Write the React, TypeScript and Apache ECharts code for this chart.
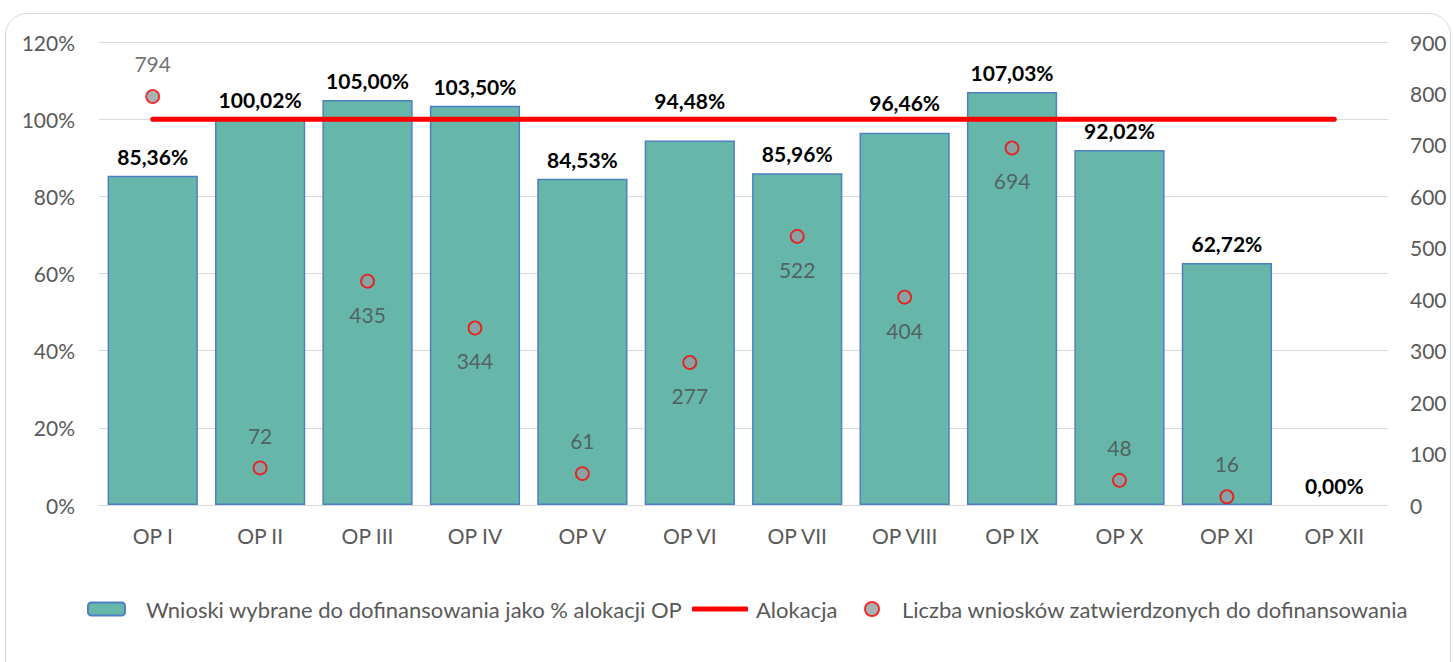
import React, { useEffect, useRef } from "react";
import * as echarts from "echarts";

const categories = ["OP I", "OP II", "OP III", "OP IV", "OP V", "OP VI", "OP VII", "OP VIII", "OP IX", "OP X", "OP XI", "OP XII"];
const percentValues = [85.36, 100.02, 105.0, 103.5, 84.53, 94.48, 85.96, 96.46, 107.03, 92.02, 62.72, 0.0];
const allocationValues = [100, 100, 100, 100, 100, 100, 100, 100, 100, 100, 100, 100];
const countValues: (number | null)[] = [794, 72, 435, 344, 61, 277, 522, 404, 694, 48, 16, null];
const countLabelPos = ["top", "top", "bottom", "bottom", "top", "bottom", "bottom", "bottom", "bottom", "top", "top", "top"];
const barLabelShift = [0, 0, 0, 0, 0, -20, 0, -11, 0, 0, 0, 0];
const leftTicks = [0, 20, 40, 60, 80, 100, 120];
const rightTicks = [0, 100, 200, 300, 400, 500, 600, 700, 800, 900];

const NAME_BAR = "Wnioski wybrane do dofinansowania jako % alokacji OP";
const NAME_LINE = "Alokacja";
const NAME_SCATTER = "Liczba wniosków zatwierdzonych do dofinansowania";

const FONT = "Lato, 'Open Sans', sans-serif";
const GREY = "#595959";

export default function App() {
  const ref = useRef<HTMLDivElement>(null);
  useEffect(() => {
    if (!ref.current) return;
    const chart = echarts.init(ref.current, undefined, { renderer: "svg" });
    const legendText = { fontSize: 22, color: GREY, fontFamily: FONT };
    chart.setOption({
      animation: false,
      textStyle: { fontFamily: FONT },
      grid: { left: 99, right: 65, top: 42, bottom: 157, containLabel: false },
      legend: [
        {
          data: [NAME_BAR], left: 82, top: 593, itemWidth: 37, itemHeight: 13,
          textStyle: { ...legendText, padding: [0, 0, 0, 16] },
        },
        {
          data: [{ name: NAME_LINE, icon: "roundRect" }], left: 687, top: 593, itemWidth: 56, itemHeight: 5,
          textStyle: { ...legendText, padding: [0, 0, 0, 3] },
        },
        {
          data: [NAME_SCATTER], left: 859, top: 593, itemWidth: 14, itemHeight: 14,
          textStyle: { ...legendText, padding: [0, 0, 0, 18] },
        },
      ],
      xAxis: {
        type: "category",
        data: categories,
        axisLine: { show: true, lineStyle: { color: "#d9d9d9", width: 1 } },
        axisTick: { show: false },
        axisLabel: { color: GREY, fontSize: 21, margin: 20, fontFamily: FONT },
      },
      yAxis: [
        {
          type: "value", min: leftTicks[0], max: leftTicks[leftTicks.length - 1], interval: 20,
          axisLabel: { color: GREY, fontSize: 21, margin: 24, formatter: (v: number) => v + "%", fontFamily: FONT },
          splitLine: { lineStyle: { color: "#d9d9d9", width: 1 } },
          axisLine: { show: false }, axisTick: { show: false },
        },
        {
          type: "value", min: rightTicks[0], max: rightTicks[rightTicks.length - 1], interval: 100,
          axisLabel: { color: GREY, fontSize: 21, margin: 22, fontFamily: FONT },
          splitLine: { show: false },
          axisLine: { show: false }, axisTick: { show: false },
        },
      ],
      series: [
        {
          name: NAME_BAR,
          type: "bar",
          data: percentValues.map((v, i) => ({
            value: v,
            itemStyle: v === 0 ? { borderWidth: 0 } : undefined,
            label: { offset: [0, barLabelShift[i]] },
          })),
          yAxisIndex: 0,
          barCategoryGap: "16%",
          itemStyle: { color: "#66b6aa", borderColor: "#4f7fc4", borderWidth: 1.5 },
          label: {
            show: true, position: "top", distance: 9,
            fontSize: 21, fontWeight: "bold", color: "#000",
            fontFamily: FONT,
            formatter: (p: any) => p.value.toFixed(2).replace(".", ",") + "%",
          },
          z: 2,
        },
        {
          name: NAME_LINE,
          type: "line",
          data: allocationValues,
          yAxisIndex: 0,
          symbol: "none",
          lineStyle: { color: "#ff0000", width: 5, cap: "round" },
          itemStyle: { color: "#ff0000" },
          z: 3,
        },
        {
          name: NAME_SCATTER,
          type: "scatter",
          yAxisIndex: 1,
          symbolSize: 13,
          data: countValues.map((v, i) => ({
            value: v,
            label: { position: countLabelPos[i] },
          })),
          itemStyle: { color: "#919fa3", borderColor: "#ff0000", borderWidth: 1.8 },
          label: { show: true, distance: 15, fontSize: 21, color: "#4d4d4d", fontFamily: FONT },
          z: 4,
        },
      ],
    });
    return () => chart.dispose();
  }, []);
  return (
    <div style={{ position: "fixed", left: 0, top: 0, width: 1453, height: 662, background: "#fff", overflow: "hidden" }}>
      <div style={{ position: "absolute", left: 5, top: 13, width: 1446, height: 700, border: "1.5px solid #d9d9d9", borderRadius: 22, boxSizing: "border-box" }} />
      <div ref={ref} style={{ position: "absolute", left: 0, top: 0, width: 1453, height: 662 }} />
    </div>
  );
}
